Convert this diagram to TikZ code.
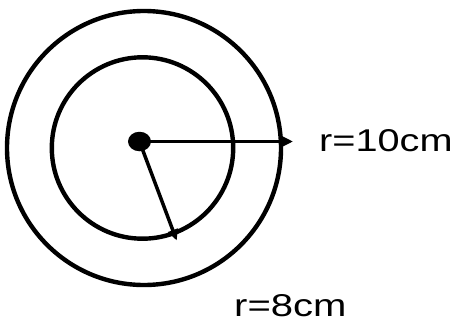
\documentclass[tikz,border=0pt]{standalone}
\usepackage{fontspec}
\setmainfont{Liberation Sans}
\usetikzlibrary{arrows.meta,shapes.geometric}
\tikzset{
  ring/.style={draw=black, line width=4.4pt},
  radius arrow/.style={draw=black, line width=3.5pt, -{Triangle[length=11pt,width=10pt]}},
  lbl/.style={anchor=base west, inner sep=0pt, font=\fontsize{31.5}{36}\selectfont},
  centerdot/.style={ellipse, fill=black, minimum width=23pt, minimum height=19.5pt, inner sep=0pt}
}
\begin{document}
\begin{tikzpicture}[x=1pt,y=-1pt]
\useasboundingbox (0,0) rectangle (460,329);
\draw[ring] (144,148) circle[radius=137];
\draw[ring] (142.5,148) circle[radius=90.7];
\node[centerdot] (c) at (139.5,141.5) {};
\coordinate (t1) at (293,141.5);
\coordinate (t2) at (176.7,240.5);
\draw[radius arrow] (c.center) -- (t1);
\draw[radius arrow] (c.center) -- (t2);
\node[lbl] (l1) at (319,151.7) {\scalebox{1.26}[1]{r=10cm}};
\node[lbl] (l2) at (234,316.7) {\scalebox{1.27}[1]{r=8cm}};
\end{tikzpicture}
\end{document}
